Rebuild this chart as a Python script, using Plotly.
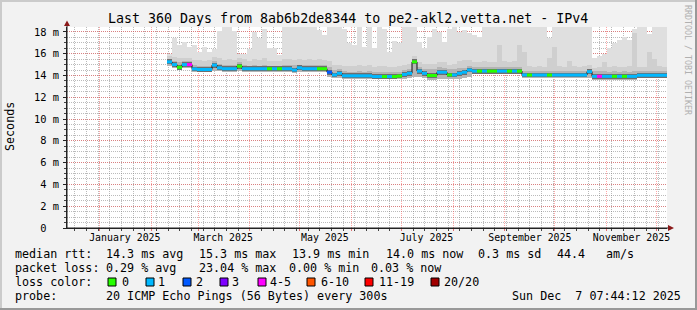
import plotly.graph_objects as go
import pandas as pd

# ---------------- data (3-day bins) ----------------
bin_start = pd.date_range("2025-02-10 07:44:12", periods=100, freq="3D")

rtt_median = [
    15.25, 15.0, 14.75, 15.0, 15.0, 14.6, 14.55, 14.55, 14.55, 14.95,
    14.7, 14.62, 14.62, 14.62, 14.85, 14.62, 14.62, 14.62, 14.62, 14.62,
    14.62, 14.62, 14.62, 14.62, 14.62, 14.5, 14.7, 14.62, 14.62, 14.62,
    14.62, 14.62, 14.3, 14.05, 14.2, 13.97, 13.97, 13.97, 13.97, 13.97,
    13.97, 13.9, 13.9, 13.9, 13.9, 13.9, 13.95, 14.1, 14.2, 15.25,
    14.4, 14.2, 14.0, 14.0, 14.3, 14.3, 14.05, 14.05, 14.2, 14.3,
    14.5, 14.4, 14.4, 14.4, 14.4, 14.4, 14.4, 14.4, 14.4, 14.4,
    14.4, 14.05, 14.04, 14.04, 14.04, 14.04, 14.04, 14.04, 14.04, 14.04,
    14.04, 14.04, 14.04, 14.04, 14.35, 13.92, 13.92, 13.92, 13.92, 13.92,
    13.92, 13.92, 13.92, 13.92, 14.02, 14.02, 14.02, 14.02, 14.02, 14.02]

rtt_min = [
    14.85, 14.7, 14.5, 14.7, 14.7, 14.35, 14.3, 14.3, 14.3, 14.4,
    14.4, 14.35, 14.35, 14.35, 14.4, 14.35, 14.35, 14.35, 14.35, 14.35,
    14.35, 14.35, 14.35, 14.35, 14.35, 14.25, 14.35, 14.35, 14.35, 14.35,
    14.35, 14.35, 13.9, 13.75, 13.75, 13.7, 13.7, 13.7, 13.7, 13.7,
    13.7, 13.65, 13.65, 13.65, 13.65, 13.65, 13.65, 13.7, 13.8, 13.85,
    13.9, 13.8, 13.6, 13.6, 13.7, 13.7, 13.65, 13.65, 13.7, 13.75,
    13.9, 14.1, 14.1, 14.1, 14.1, 14.1, 14.1, 14.1, 14.1, 14.1,
    14.1, 13.75, 13.75, 13.75, 13.75, 13.75, 13.75, 13.75, 13.75, 13.75,
    13.75, 13.75, 13.75, 13.75, 13.75, 13.6, 13.6, 13.6, 13.6, 13.6,
    13.6, 13.6, 13.6, 13.6, 13.75, 13.75, 13.75, 13.75, 13.75, 13.75]

rtt_p60 = [
    15.5, 15.3, 15.2, 15.3, 15.3, 14.95, 14.9, 14.85, 14.85, 15.3,
    15.05, 14.95, 14.95, 14.95, 15.2, 14.95, 14.9, 14.95, 14.9, 14.95,
    14.9, 14.9, 14.9, 14.95, 14.95, 14.95, 15.0, 14.95, 14.95, 14.95,
    14.95, 14.95, 14.8, 14.5, 14.55, 14.4, 14.35, 14.35, 14.4, 14.35,
    14.4, 14.3, 14.35, 14.35, 14.3, 14.3, 14.35, 14.5, 14.6, 15.5,
    14.75, 14.6, 14.6, 14.6, 14.75, 14.7, 14.55, 14.55, 14.65, 14.7,
    14.85, 14.75, 14.75, 14.75, 14.75, 14.75, 14.8, 14.75, 14.75, 14.75,
    14.8, 14.45, 14.4, 14.4, 14.45, 14.4, 14.4, 14.45, 14.4, 14.4,
    14.45, 14.4, 14.4, 14.4, 14.6, 14.4, 14.4, 14.4, 14.35, 14.4,
    14.35, 14.4, 14.35, 14.4, 14.4, 14.4, 14.4, 14.4, 14.4, 14.4]

rtt_p90 = [
    15.8, 15.7, 15.6, 15.6, 15.6, 15.4, 15.4, 15.3, 15.4, 15.7,
    15.6, 15.4, 15.5, 15.4, 15.6, 15.5, 15.3, 15.5, 15.4, 15.6,
    15.3, 15.3, 15.3, 15.5, 15.5, 15.4, 15.5, 15.4, 15.5, 15.4,
    15.5, 15.4, 15.3, 15.0, 15.0, 14.9, 14.9, 14.9, 15.0, 14.9,
    15.0, 14.8, 14.9, 14.9, 14.8, 14.8, 14.9, 15.0, 15.1, 15.8,
    15.2, 15.1, 15.1, 15.1, 15.2, 15.2, 15.0, 15.1, 15.3, 15.4,
    15.4, 15.2, 15.2, 15.3, 15.2, 15.2, 16.8, 15.3, 15.2, 15.3,
    16.8, 16.2, 14.9, 14.8, 14.9, 14.8, 15.6, 16.6, 14.9, 14.8,
    15.3, 14.9, 14.8, 14.9, 15.0, 14.7, 14.8, 15.2, 14.8, 14.9,
    14.8, 14.8, 14.9, 17.9, 14.8, 14.8, 16.2, 15.5, 14.9, 14.8]

rtt_max = [
    16.0, 17.4, 16.8, 17.1, 16.6, 16.8, 16.2, 16.6, 16.2, 16.4,
    18.1, 19.0, 19.0, 18.1, 16.0, 16.0, 16.4, 18.0, 17.4, 18.3,
    16.5, 16.5, 15.9, 19.0, 19.0, 19.0, 19.0, 19.0, 19.0, 19.0,
    18.2, 17.7, 19.0, 19.0, 19.0, 18.3, 17.0, 16.8, 19.0, 16.6,
    19.0, 16.5, 19.0, 18.3, 16.2, 17.2, 17.0, 19.0, 19.0, 19.0,
    17.1, 16.5, 17.5, 18.3, 18.0, 17.1, 18.3, 19.0, 18.0, 18.2,
    17.9, 17.7, 17.5, 19.0, 19.0, 19.0, 19.0, 19.0, 19.0, 19.0,
    19.0, 19.0, 19.0, 19.0, 19.0, 19.0, 17.4, 19.0, 19.0, 19.0,
    19.0, 19.0, 19.0, 19.0, 19.0, 15.6, 15.8, 16.0, 16.5, 17.0,
    17.3, 17.5, 17.3, 18.3, 19.0, 19.0, 17.8, 19.0, 19.0, 19.0]

loss = [
    1, 1, 0, 1, 4, 1, 1, 1, 1, 1,
    1, 1, 1, 1, 0, 1, 1, 1, 1, 1,
    0, 1, 0, 1, 1, 1, 1, 1, 1, 1,
    0, 0, 2, 1, 1, 1, 1, 1, 1, 1,
    1, 1, 1, 0, 1, 0, 0, 1, 1, 0,
    1, 1, 0, 0, 1, 1, 0, 1, 1, 1,
    1, 1, 0, 1, 0, 0, 1, 1, 0, 1,
    0, 1, 0, 1, 1, 1, 0, 1, 1, 1,
    1, 1, 1, 1, 1, 1, 4, 1, 1, 0,
    1, 0, 1, 1, 1, 1, 1, 1, 1, 1]

y_ticks = [0, 2, 4, 6, 8, 10, 12, 14, 16, 18]
y_labels = ["0\u00a0<span style='color:rgba(0,0,0,0)'>m</span>", "2\u00a0m", "4\u00a0m", "6\u00a0m", "8\u00a0m",
            "10\u00a0m", "12\u00a0m", "14\u00a0m", "16\u00a0m", "18\u00a0m"]
month_label_dates = ["2025-01-16", "2025-03-16", "2025-05-16", "2025-07-16", "2025-09-16", "2025-11-16"]
month_labels = ["January 2025", "March 2025", "May 2025", "July 2025", "September 2025", "November 2025"]
loss_legend = ["0", "1", "2", "3", "4-5", "6-10", "11-19", "20/20"]
loss_legend_colors = ["#26ff00", "#00b8ff", "#0059ff", "#7e00ff", "#ff00ff", "#ff5500", "#ff0000", "#a10000"]

X_START = "2024-12-12 07:44:12"
X_END = "2025-12-07 07:44:12"

# ---------------- helpers ----------------
W, H = 697, 310
L, R, T, B = 67, 667, 27, 228
def px(x):
    return (x - L) / (R - L)
def py(y):
    return (B - y) / (B - T)

def loss_color(n):
    if n <= 0: return loss_legend_colors[0]
    if n == 1: return loss_legend_colors[1]
    if n == 2: return loss_legend_colors[2]
    if n == 3: return loss_legend_colors[3]
    if n <= 5: return loss_legend_colors[4]
    if n <= 10: return loss_legend_colors[5]
    if n <= 19: return loss_legend_colors[6]
    return loss_legend_colors[7]

DAY_MS = 86400000
bin_w = 3 * DAY_MS
centers = bin_start + pd.Timedelta(hours=36)
bin_end = bin_start + pd.Timedelta(days=3)

fig = go.Figure()

def band(lo, hi, color):
    fig.add_trace(go.Bar(
        x=centers, base=lo, y=[h - l for h, l in zip(hi, lo)], width=bin_w,
        marker=dict(color=color, line=dict(width=0)),
        hoverinfo="skip", showlegend=False))

band(rtt_min, rtt_max, "#dfdfdf")
band(rtt_min, rtt_p90, "#cfcfcf")
band(rtt_min, rtt_p60, "#b4b4b4")
core = 0.22
band([m - core for m in rtt_median], [m + core for m in rtt_median], "#6e6e6e")

# dark median trace (visible at steps)
line_x = list(bin_start) + [bin_end[-1]]
line_y = rtt_median + [rtt_median[-1]]
fig.add_trace(go.Scatter(x=line_x, y=line_y, mode="lines", line=dict(color="#111111", width=1, shape="hv"),
                         hoverinfo="skip", showlegend=False))

# loss coloured median: horizontal segments per bin, grouped by colour
seg = {}
for s, e, m, n in zip(bin_start, bin_end, rtt_median, loss):
    c = loss_color(n)
    xs, ys = seg.setdefault(c, ([], []))
    xs += [s, e, None]
    ys += [m, m, None]
for c, (xs, ys) in seg.items():
    fig.add_trace(go.Scatter(x=xs, y=ys, mode="lines", line=dict(color=c, width=3),
                             connectgaps=False, hoverinfo="skip", showlegend=False))

# invisible trace for the month-label axis
fig.add_trace(go.Scatter(x=month_label_dates, y=[0] * len(month_label_dates), xaxis="x2", mode="markers",
                         marker=dict(opacity=0), hoverinfo="skip", showlegend=False))

MONO = "DejaVu Sans Mono"
RED_GRID = "rgba(255,60,60,0.45)"
GREY_GRID = "rgba(120,120,120,0.5)"

fig.update_layout(
    width=W, height=H,
    margin=dict(l=L, r=W - R, t=T, b=H - B),
    paper_bgcolor="#f2f2f2", plot_bgcolor="#ffffff",
    barmode="overlay", bargap=0,
    showlegend=False,
    xaxis=dict(
        type="date", range=[X_START, X_END],
        tickmode="linear", tick0="2025-01-01", dtick="M1",
        showticklabels=False, showgrid=True, gridcolor=RED_GRID, griddash="1px,1px", gridwidth=1,
        ticks="outside", ticklen=2, tickcolor="#e07070",
        minor=dict(tickmode="linear", tick0="2025-01-07", dtick=7 * DAY_MS, showgrid=True,
                   gridcolor=GREY_GRID, griddash="1px,1px", gridwidth=1,
                   ticks="outside", ticklen=2, tickcolor="#444"),
        showline=True, linecolor="#222", linewidth=1, zeroline=False,
    ),
    xaxis2=dict(
        type="date", range=[X_START, X_END], overlaying="x", anchor="y", side="bottom",
        tickmode="array", tickvals=month_label_dates, ticktext=month_labels,
        showgrid=False, ticks="", showline=False, zeroline=False,
        tickfont=dict(family=MONO, size=9.9, color="#000"), ticklabelstandoff=2,
    ),
    yaxis=dict(
        range=[0, 18.45], tickmode="array", tickvals=y_ticks, ticktext=y_labels,
        tickfont=dict(family=MONO, size=10.4, color="#000"),
        showgrid=True, gridcolor=RED_GRID, griddash="1px,1px", gridwidth=1,
        ticks="outside", ticklen=3, tickcolor="#222",
        minor=dict(tickmode="linear", tick0=0, dtick=0.5, showgrid=True,
                   gridcolor=GREY_GRID, griddash="1px,1px", gridwidth=1,
                   ticks="outside", ticklen=2, tickcolor="#444"),
        showline=True, linecolor="#222", linewidth=1, zeroline=False,
        ticklabelstandoff=2,
    ),
)

# ---------- frame, axis extensions, arrows ----------
shapes = []
def rect(x0, y0, x1, y1, color, line=None):
    shapes.append(dict(type="rect", xref="paper", yref="paper", x0=px(x0), x1=px(x1), y0=py(y0), y1=py(y1),
                       fillcolor=color, line=dict(width=0) if line is None else line, layer="above"))

rect(0, 0, W, 2, "#cbcbcb")
rect(0, 0, 2, H, "#cbcbcb")
rect(0, H - 2, W, H, "#999999")
rect(W - 2, 0, W, H, "#999999")
# axis extensions
shapes.append(dict(type="line", xref="paper", yref="paper", x0=px(L), x1=px(L), y0=py(B), y1=py(24),
                   line=dict(color="#222", width=1)))
shapes.append(dict(type="line", xref="paper", yref="paper", x0=px(L), x1=px(670), y0=py(B), y1=py(B),
                   line=dict(color="#222", width=1)))
# arrows
def path(pts):
    d = "M " + " L ".join(f"{px(a)},{py(b)}" for a, b in pts) + " Z"
    shapes.append(dict(type="path", xref="paper", yref="paper", path=d, fillcolor="#8b1a1a",
                       line=dict(width=0), layer="above"))
path([(64, 26), (70, 26), (67, 20.5)])
path([(668, 225), (668, 231), (674, 228)])

# loss colour legend boxes
box_x = [108, 146, 183, 220, 258, 307, 365, 431]
label_x = [123, 159, 197, 233, 271, 322, 380, 445]
for bx, c in zip(box_x, loss_legend_colors):
    rect(bx, 278, bx + 8, 286, c, line=dict(color="#000", width=1))
fig.update_layout(shapes=shapes)

# ---------- text ----------
def txt(x, y, s, size=11.7, anchor="left", color="#000", angle=0):
    fig.add_annotation(x=px(x), y=py(y), xref="paper", yref="paper", text=s.replace(" ", "\u00a0"),
                       showarrow=False, xanchor=anchor, yanchor="middle", textangle=angle,
                       font=dict(family=MONO, size=size, color=color), borderpad=0, borderwidth=0)

txt(347.5, 19, "Last 360 Days from 8ab6b2de8344 to pe2-akl2.vetta.net - IPv4", size=13.3, anchor="center")
txt(10, 127, "Seconds", size=11.7, anchor="center", angle=-90)
txt(688, 60, "RRDTOOL / TOBI OETIKER", size=8.3, anchor="center", color="#b0b0b0", angle=90)

LX = 15
txt(LX, 254, "median rtt:")
txt(106, 254, "14.3 ms avg")
txt(199, 254, "15.3 ms max")
txt(292, 254, "13.9 ms min")
txt(386, 254, "14.0 ms now")
txt(478, 254, "0.3 ms sd")
txt(557, 254, "44.4")
txt(606, 254, "am/s")

txt(LX, 268, "packet loss:")
txt(106, 268, "0.29 % avg")
txt(199, 268, "23.04 % max")
txt(289, 268, "0.00 % min")
txt(371, 268, "0.03 % now")

txt(LX, 282, "loss color:")
for lx, s in zip(label_x, loss_legend):
    txt(lx - 1, 282, s)

txt(LX, 296, "probe:")
txt(106, 296, "20 ICMP Echo Pings (56 Bytes) every 300s")
txt(681, 296, "Sun Dec  7 07:44:12 2025", anchor="right")

fig.write_html("out.html")
